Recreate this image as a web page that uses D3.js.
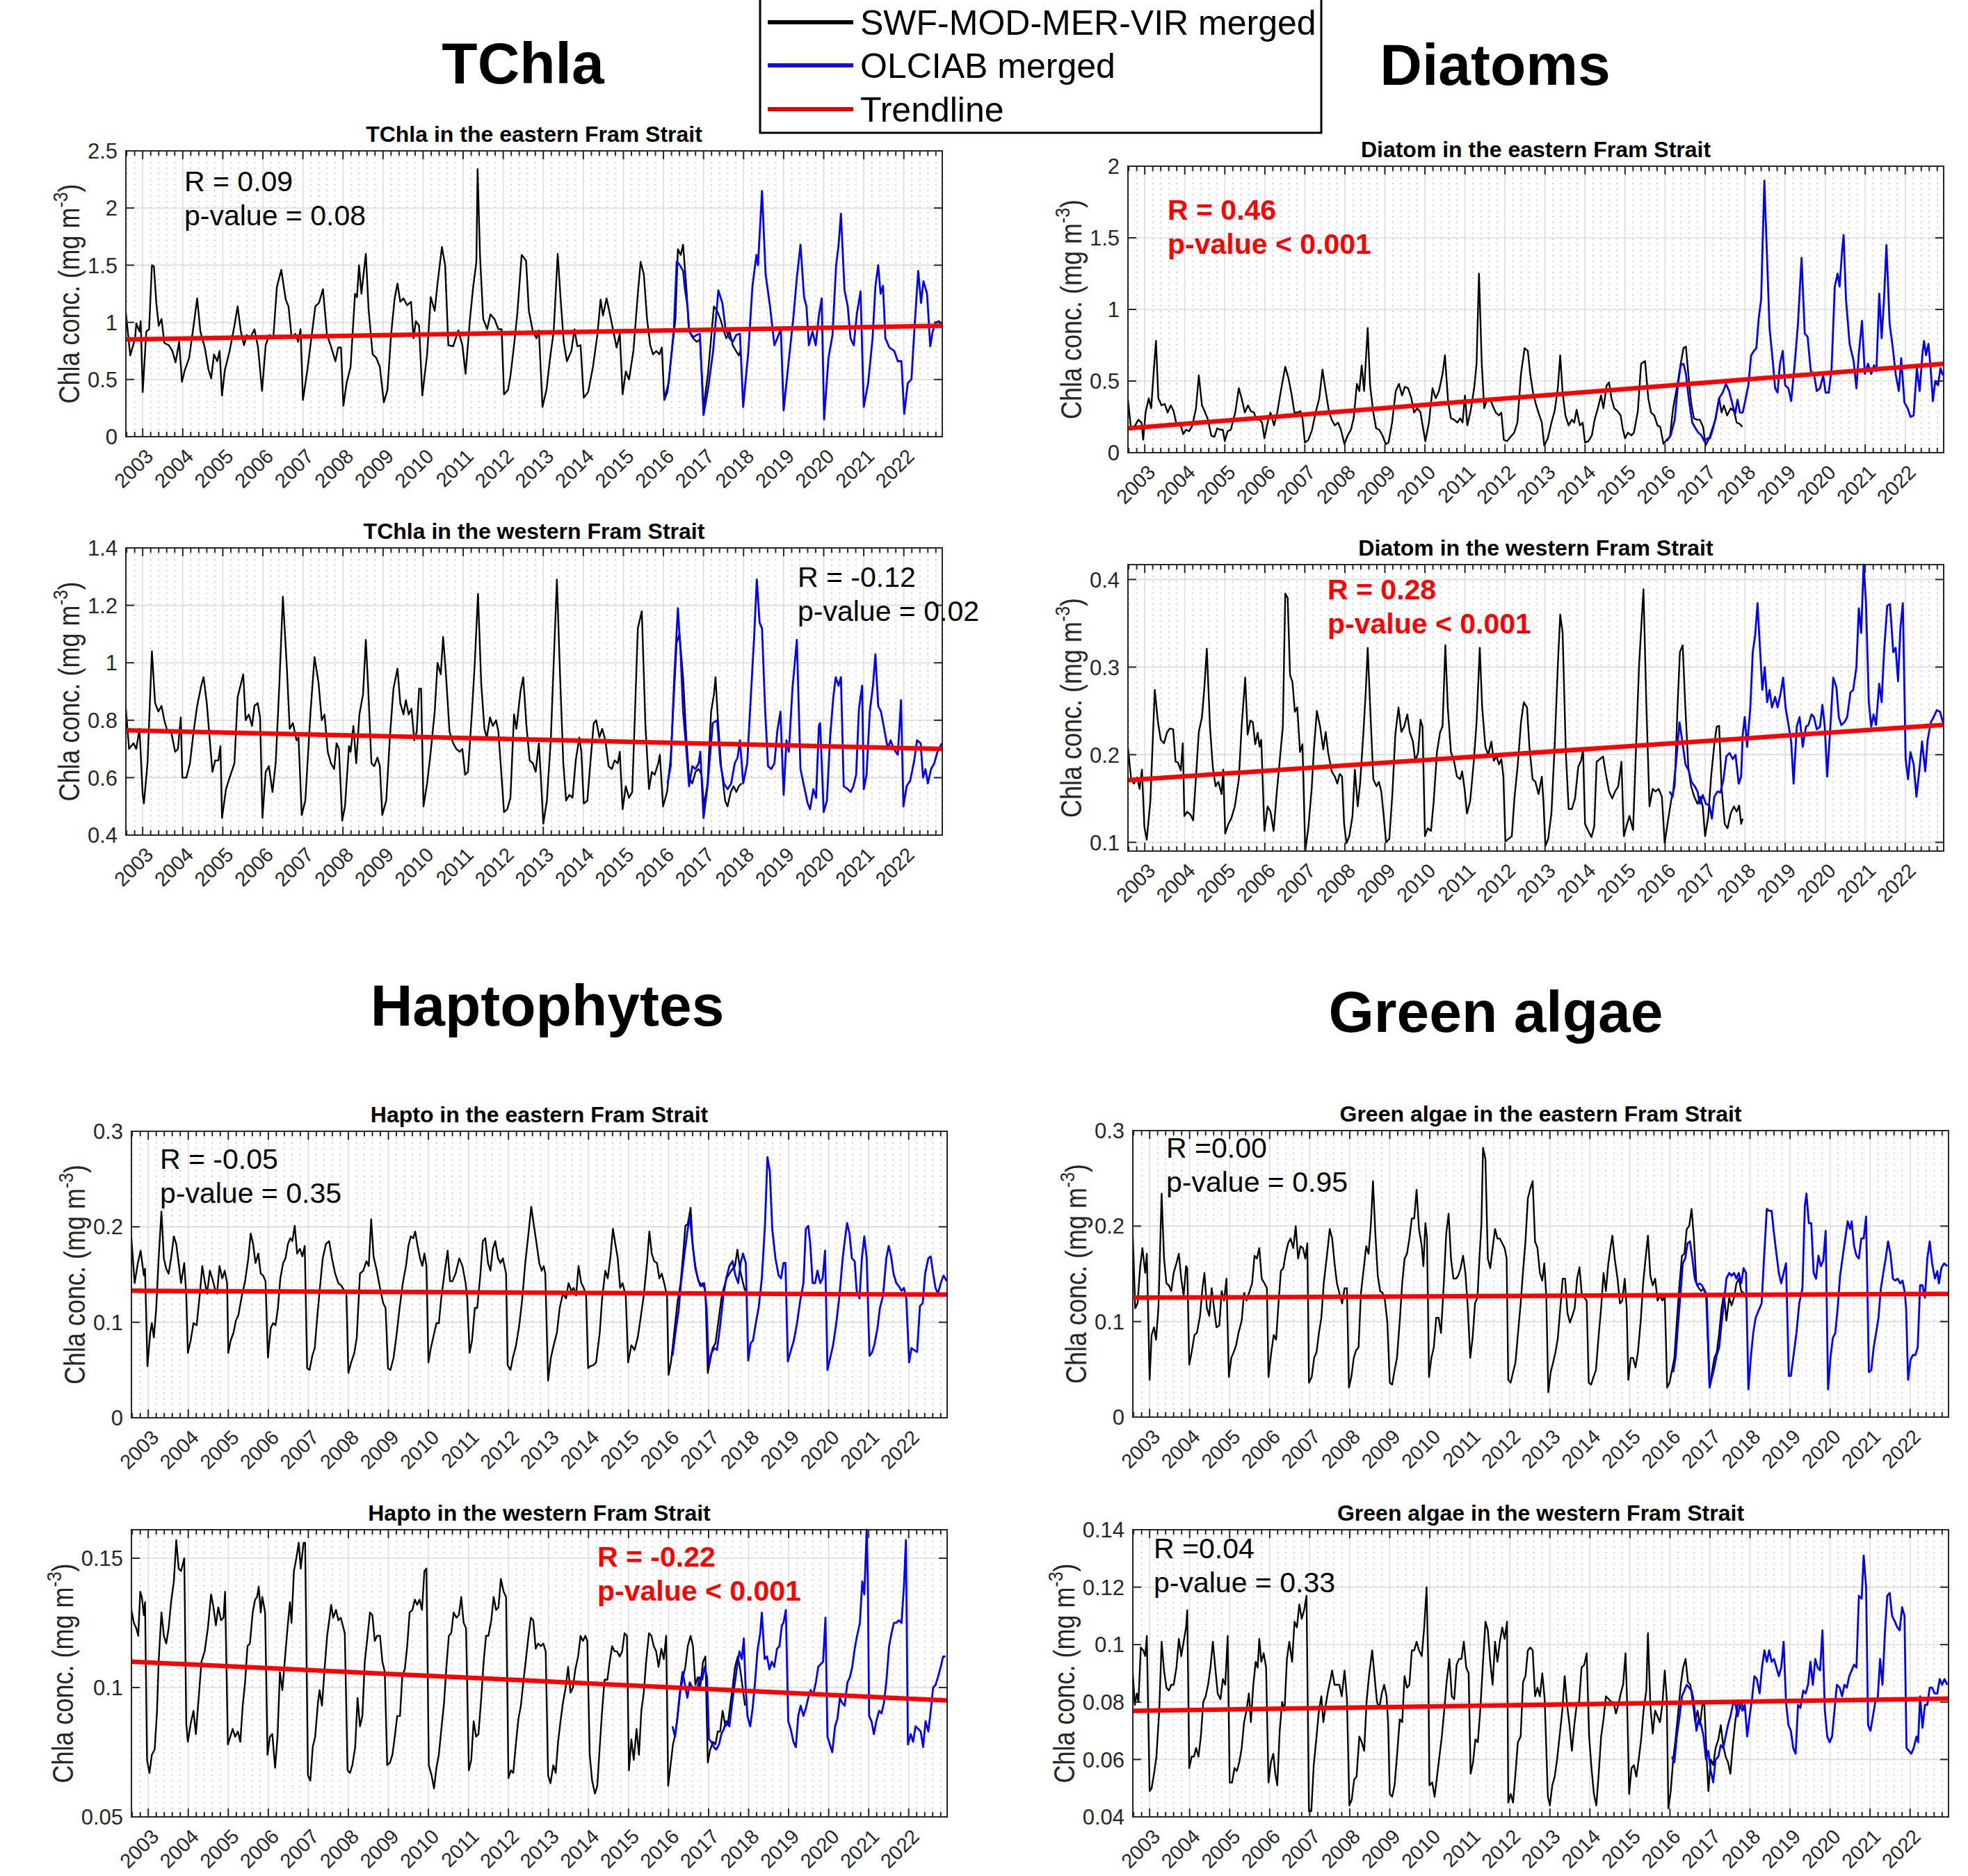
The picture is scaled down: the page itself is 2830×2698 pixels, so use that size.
<!DOCTYPE html>
<html>
<head>
<meta charset="utf-8">
<script src="https://cdn.jsdelivr.net/npm/d3@7"></script>
<style>
  body { margin: 0; background: #fff; }
  svg { display: block; font-family: "Liberation Sans", Arial, Helvetica, sans-serif; }
</style>
</head>
<body>
<svg id="fig" width="2830" height="2698"></svg>
<script>
// ---- shared axis data ----
const xDomain = [2002.58, 2022.96];
const yearTicks = d3.range(2003, 2023);
const minorStep = 0.2;

// ---- TChla, eastern ----
const tchlaEastSWF = [[2002.58,1.08],[2002.69,0.71],[2002.81,0.86],[2002.84,0.99],[2002.92,0.92],[2002.95,1.01],[2003.00,0.39],[2003.09,0.92],[2003.16,0.94],[2003.23,1.50],[2003.28,1.49],[2003.34,1.17],[2003.40,0.97],[2003.47,1.03],[2003.54,0.82],[2003.65,0.80],[2003.74,0.75],[2003.82,0.65],[2003.91,0.83],[2003.98,0.48],
[2004.05,0.58],[2004.16,0.69],[2004.27,0.97],[2004.36,1.21],[2004.44,0.92],[2004.55,0.78],[2004.64,0.59],[2004.71,0.51],[2004.78,0.72],[2004.86,0.66],[2004.92,0.75],[2004.98,0.36],
[2005.05,0.58],[2005.17,0.75],[2005.29,0.97],[2005.37,1.14],[2005.45,0.92],[2005.53,0.80],[2005.60,0.89],[2005.68,0.86],[2005.79,0.94],[2005.88,0.78],[2005.98,0.40],
[2006.07,0.80],[2006.16,0.89],[2006.26,0.86],[2006.35,1.31],[2006.46,1.46],[2006.57,1.20],[2006.64,1.14],[2006.72,0.86],[2006.81,0.90],[2006.88,0.83],[2006.94,0.94],[2007.00,0.32],
[2007.11,0.58],[2007.22,0.89],[2007.31,1.14],[2007.40,1.17],[2007.50,1.29],[2007.60,0.89],[2007.70,0.79],[2007.81,0.66],[2007.88,0.78],[2007.95,0.78],[2008.01,0.27],
[2008.09,0.47],[2008.19,0.61],[2008.30,1.25],[2008.35,1.22],[2008.40,1.50],[2008.46,1.25],[2008.57,1.60],[2008.64,1.11],[2008.74,0.72],[2008.83,0.69],[2008.92,0.61],[2009.02,0.30],
[2009.11,0.41],[2009.20,0.89],[2009.29,1.21],[2009.36,1.34],[2009.43,1.18],[2009.51,1.21],[2009.60,1.15],[2009.70,1.18],[2009.76,0.86],[2009.82,1.01],[2009.90,0.97],[2009.98,0.36],
[2010.10,0.72],[2010.19,1.22],[2010.29,1.10],[2010.36,1.34],[2010.47,1.66],[2010.55,1.50],[2010.63,0.80],[2010.75,0.79],[2010.88,0.93],[2010.98,0.80],
[2011.06,0.55],[2011.17,1.03],[2011.25,1.31],[2011.33,1.53],[2011.36,2.34],[2011.42,1.59],[2011.50,1.03],[2011.60,0.94],[2011.68,1.07],[2011.78,1.03],[2011.88,0.94],[2011.96,0.94],[2012.02,0.37],
[2012.12,0.41],[2012.18,0.53],[2012.27,0.80],[2012.35,1.07],[2012.46,1.59],[2012.57,1.54],[2012.64,1.10],[2012.74,0.92],[2012.83,0.86],[2012.89,0.93],[2012.98,0.26],
[2013.08,0.41],[2013.17,0.69],[2013.26,0.92],[2013.36,1.60],[2013.43,1.22],[2013.51,0.83],[2013.59,0.66],[2013.70,0.75],[2013.78,0.94],[2013.85,0.79],[2013.93,0.80],[2014.01,0.34],
[2014.12,0.39],[2014.24,0.61],[2014.35,0.89],[2014.43,1.20],[2014.49,1.06],[2014.58,1.21],[2014.67,1.06],[2014.75,0.92],[2014.83,0.78],[2014.91,0.90],[2014.98,0.37],
[2015.06,0.57],[2015.14,0.50],[2015.25,0.75],[2015.36,1.25],[2015.43,1.53],[2015.51,1.42],[2015.59,1.03],[2015.67,0.80],[2015.74,0.72],[2015.82,0.75],[2015.90,0.72],[2015.96,0.78],[2016.02,0.32],
[2016.10,0.39],[2016.21,0.75],[2016.30,1.03],[2016.36,1.64],[2016.43,1.59],[2016.49,1.68],[2016.57,1.31],[2016.64,0.92],[2016.74,0.86],[2016.83,0.83],[2016.91,0.85],[2017.00,0.25],
[2017.11,0.55],[2017.26,1.14],[2017.34,1.10],[2017.42,1.03],[2017.51,0.92],[2017.57,0.86],[2017.65,0.92],[2017.73,0.80],[2017.81,0.75],[2017.88,0.71],[2017.93,0.76]];
const tchlaEastOLCI = [[2016.02,0.33],[2016.13,0.47],[2016.26,0.94],[2016.33,1.53],[2016.41,1.50],[2016.49,1.45],[2016.53,1.31],[2016.60,1.14],[2016.64,0.92],[2016.75,0.87],[2016.83,0.89],[2016.91,0.90],[2017.00,0.19],
[2017.11,0.41],[2017.24,0.75],[2017.37,1.28],[2017.47,1.17],[2017.55,0.94],[2017.65,0.86],[2017.73,0.83],[2017.82,0.89],[2017.91,0.90],[2017.99,0.26],
[2018.12,0.75],[2018.22,1.31],[2018.32,1.59],[2018.36,1.50],[2018.46,2.15],[2018.55,1.42],[2018.66,1.14],[2018.77,0.80],[2018.84,0.86],[2018.93,0.94],[2019.00,0.23],
[2019.12,0.64],[2019.24,1.03],[2019.33,1.39],[2019.42,1.68],[2019.51,1.22],[2019.57,1.14],[2019.63,0.80],[2019.72,0.92],[2019.80,0.80],[2019.88,1.06],[2019.95,1.21],[2020.01,0.15],
[2020.12,0.69],[2020.22,0.89],[2020.31,1.50],[2020.37,1.67],[2020.43,1.95],[2020.52,1.28],[2020.60,1.14],[2020.67,0.86],[2020.75,0.80],[2020.83,1.08],[2020.92,1.27],[2021.00,0.26],
[2021.11,0.47],[2021.22,0.86],[2021.29,1.31],[2021.36,1.50],[2021.42,1.25],[2021.48,1.32],[2021.54,0.86],[2021.64,0.78],[2021.76,0.75],[2021.85,0.66],[2021.94,0.66],[2022.01,0.20],
[2022.10,0.47],[2022.19,0.50],[2022.27,0.97],[2022.36,1.45],[2022.43,1.17],[2022.49,1.36],[2022.58,1.25],[2022.66,0.79],[2022.72,0.92],[2022.80,1.00],[2022.88,1.01],[2022.95,0.97]];
const tchlaEastTrend = [0.85, 0.97];
const tchlaEastY = [0, 2.5];
const tchlaEastTicks = [0, 0.5, 1, 1.5, 2, 2.5];
const tchlaEastStats = ['R = 0.09', 'p-value = 0.08', false];

// ---- TChla, western ----
const tchlaWestSWF = [[2002.58,0.84],[2002.66,0.70],[2002.77,0.72],[2002.84,0.70],[2002.92,0.77],[2003.00,0.54],[2003.03,0.51],[2003.12,0.65],[2003.23,1.04],[2003.31,0.86],[2003.39,0.83],[2003.47,0.85],[2003.54,0.80],[2003.62,0.76],[2003.71,0.76],[2003.81,0.69],[2003.88,0.70],[2003.95,0.81],[2003.99,0.60],
[2004.09,0.60],[2004.18,0.65],[2004.27,0.76],[2004.36,0.85],[2004.46,0.92],[2004.52,0.95],[2004.60,0.86],[2004.67,0.74],[2004.74,0.62],[2004.81,0.66],[2004.89,0.66],[2004.94,0.71],[2004.98,0.46],
[2005.08,0.56],[2005.17,0.60],[2005.29,0.65],[2005.37,0.88],[2005.51,0.96],[2005.57,0.80],[2005.65,0.82],[2005.73,0.78],[2005.79,0.85],[2005.87,0.86],[2005.93,0.81],[2005.99,0.46],
[2006.07,0.62],[2006.15,0.64],[2006.24,0.55],[2006.32,0.65],[2006.41,0.92],[2006.50,1.23],[2006.60,0.98],[2006.67,0.77],[2006.75,0.79],[2006.84,0.73],[2006.89,0.74],[2006.97,0.47],
[2007.06,0.52],[2007.19,0.83],[2007.29,1.02],[2007.39,0.93],[2007.47,0.80],[2007.54,0.82],[2007.62,0.69],[2007.70,0.65],[2007.78,0.63],[2007.84,0.72],[2007.90,0.70],[2007.98,0.45],
[2008.05,0.50],[2008.15,0.71],[2008.19,0.69],[2008.26,0.78],[2008.33,0.65],[2008.41,0.82],[2008.50,0.89],[2008.57,1.08],[2008.63,0.91],[2008.71,0.65],[2008.78,0.64],[2008.86,0.67],[2008.92,0.64],[2008.98,0.47],
[2009.08,0.52],[2009.17,0.74],[2009.26,0.91],[2009.36,0.98],[2009.43,0.86],[2009.51,0.82],[2009.57,0.87],[2009.64,0.82],[2009.71,0.84],[2009.78,0.73],[2009.84,0.76],[2009.90,0.91],[2009.95,0.91],[2010.01,0.50],
[2010.10,0.58],[2010.19,0.69],[2010.29,0.83],[2010.36,1.00],[2010.44,0.96],[2010.50,1.09],[2010.57,0.96],[2010.66,0.76],[2010.75,0.72],[2010.83,0.70],[2010.91,0.69],[2010.98,0.70],
[2011.05,0.61],[2011.12,0.62],[2011.22,0.83],[2011.29,1.00],[2011.37,1.24],[2011.45,0.93],[2011.53,0.77],[2011.59,0.74],[2011.67,0.81],[2011.74,0.78],[2011.82,0.80],[2011.88,0.76],[2012.02,0.48],
[2012.10,0.49],[2012.18,0.53],[2012.27,0.82],[2012.33,0.77],[2012.43,0.90],[2012.50,0.95],[2012.58,0.78],[2012.66,0.66],[2012.74,0.65],[2012.81,0.62],[2012.89,0.72],[2012.94,0.60],[2013.00,0.44],
[2013.09,0.52],[2013.19,0.74],[2013.26,1.00],[2013.34,1.29],[2013.42,0.95],[2013.50,0.65],[2013.57,0.52],[2013.65,0.54],[2013.73,0.53],[2013.81,0.66],[2013.90,0.74],[2013.95,0.69],[2014.01,0.51],
[2014.10,0.52],[2014.18,0.66],[2014.26,0.79],[2014.32,0.80],[2014.40,0.74],[2014.47,0.77],[2014.55,0.73],[2014.63,0.64],[2014.71,0.63],[2014.78,0.66],[2014.86,0.65],[2014.91,0.69],[2014.98,0.49],
[2015.06,0.57],[2015.14,0.53],[2015.22,0.55],[2015.29,0.83],[2015.36,1.12],[2015.46,1.18],[2015.55,0.78],[2015.64,0.56],[2015.71,0.62],[2015.78,0.61],[2015.87,0.65],[2015.91,0.68],[2015.99,0.50],
[2016.09,0.55],[2016.18,0.67],[2016.26,0.88],[2016.33,1.07],[2016.40,1.10],[2016.49,0.95],[2016.57,0.74],[2016.64,0.60],[2016.72,0.58],[2016.80,0.62],[2016.88,0.63],[2016.95,0.61],[2017.01,0.50],
[2017.10,0.58],[2017.19,0.83],[2017.26,0.89],[2017.30,0.95],[2017.36,0.80],[2017.44,0.64],[2017.54,0.52],[2017.60,0.50],[2017.68,0.55],[2017.75,0.57],[2017.82,0.55],[2017.88,0.57],[2017.95,0.58]];
const tchlaWestOLCI = [[2016.10,0.58],[2016.18,0.64],[2016.27,0.95],[2016.36,1.19],[2016.43,1.03],[2016.49,0.83],[2016.57,0.70],[2016.64,0.57],[2016.72,0.64],[2016.80,0.63],[2016.88,0.65],[2016.92,0.69],[2017.00,0.46],
[2017.10,0.57],[2017.23,0.79],[2017.34,0.80],[2017.42,0.65],[2017.51,0.58],[2017.60,0.56],[2017.69,0.58],[2017.78,0.65],[2017.85,0.67],[2017.91,0.73],[2017.99,0.58],
[2018.09,0.65],[2018.16,0.83],[2018.26,1.08],[2018.33,1.29],[2018.40,1.14],[2018.46,1.12],[2018.54,0.83],[2018.61,0.64],[2018.69,0.63],[2018.77,0.65],[2018.84,0.76],[2018.92,0.83],[2019.00,0.54],
[2019.07,0.73],[2019.13,0.69],[2019.22,0.91],[2019.33,1.08],[2019.42,0.63],[2019.51,0.57],[2019.60,0.51],[2019.66,0.49],[2019.74,0.56],[2019.81,0.53],[2019.88,0.78],[2019.91,0.79],[2020.00,0.48],
[2020.08,0.52],[2020.16,0.74],[2020.24,0.88],[2020.30,0.95],[2020.37,0.92],[2020.43,0.95],[2020.50,0.57],[2020.60,0.56],[2020.67,0.55],[2020.74,0.57],[2020.81,0.61],[2020.88,0.84],[2020.96,0.92],[2021.00,0.56],
[2021.07,0.61],[2021.15,0.83],[2021.23,0.92],[2021.29,1.03],[2021.36,0.85],[2021.43,0.83],[2021.51,0.77],[2021.60,0.70],[2021.67,0.73],[2021.75,0.70],[2021.85,0.68],[2021.93,0.87],[2021.99,0.50],
[2022.07,0.57],[2022.16,0.59],[2022.26,0.66],[2022.33,0.73],[2022.42,0.72],[2022.48,0.60],[2022.54,0.63],[2022.60,0.58],[2022.68,0.63],[2022.76,0.65],[2022.84,0.69],[2022.95,0.72]];
const tchlaWestTrend = [0.765, 0.70];
const tchlaWestY = [0.4, 1.4];
const tchlaWestTicks = [0.4, 0.6, 0.8, 1, 1.2, 1.4];
const tchlaWestStats = ['R = -0.12', 'p-value = 0.02', false];

// ---- Diatoms, eastern ----
const diatomEastSWF = [[2002.58,0.37],[2002.66,0.16],[2002.76,0.19],[2002.84,0.23],[2002.92,0.21],[2002.96,0.09],[2003.02,0.28],[2003.10,0.38],[2003.16,0.31],[2003.22,0.55],[2003.28,0.78],[2003.34,0.38],[2003.42,0.33],[2003.50,0.34],[2003.57,0.28],[2003.65,0.33],[2003.72,0.29],[2003.80,0.19],[2003.88,0.21],[2003.96,0.13],
[2004.03,0.16],[2004.11,0.15],[2004.19,0.19],[2004.28,0.31],[2004.35,0.54],[2004.43,0.33],[2004.51,0.28],[2004.58,0.23],[2004.66,0.12],[2004.74,0.11],[2004.81,0.17],[2004.89,0.16],[2004.95,0.16],[2005.00,0.08],
[2005.07,0.15],[2005.15,0.16],[2005.26,0.28],[2005.35,0.45],[2005.42,0.38],[2005.50,0.28],[2005.58,0.33],[2005.65,0.29],[2005.73,0.28],[2005.79,0.23],[2005.87,0.23],[2005.93,0.21],[2005.99,0.10],
[2006.07,0.21],[2006.14,0.28],[2006.23,0.19],[2006.31,0.28],[2006.40,0.43],[2006.51,0.60],[2006.59,0.52],[2006.66,0.42],[2006.74,0.28],[2006.82,0.28],[2006.89,0.29],[2006.94,0.24],[2007.00,0.07],
[2007.09,0.09],[2007.18,0.16],[2007.27,0.28],[2007.36,0.38],[2007.44,0.58],[2007.52,0.43],[2007.60,0.29],[2007.67,0.23],[2007.75,0.19],[2007.83,0.21],[2007.90,0.16],[2007.99,0.06],
[2008.07,0.12],[2008.15,0.16],[2008.22,0.24],[2008.30,0.48],[2008.36,0.43],[2008.42,0.61],[2008.48,0.43],[2008.57,0.87],[2008.63,0.47],[2008.71,0.28],[2008.78,0.17],[2008.86,0.16],[2008.94,0.12],[2009.02,0.06],
[2009.09,0.07],[2009.18,0.21],[2009.27,0.43],[2009.35,0.48],[2009.43,0.40],[2009.50,0.46],[2009.58,0.45],[2009.66,0.38],[2009.73,0.28],[2009.81,0.31],[2009.89,0.28],[2009.93,0.21],[2010.01,0.08],
[2010.10,0.21],[2010.19,0.45],[2010.27,0.38],[2010.35,0.43],[2010.44,0.55],[2010.50,0.68],[2010.58,0.35],[2010.65,0.24],[2010.73,0.23],[2010.81,0.21],[2010.88,0.24],[2010.94,0.21],[2011.00,0.40],
[2011.06,0.19],[2011.14,0.29],[2011.23,0.45],[2011.29,0.62],[2011.35,1.25],[2011.42,0.62],[2011.48,0.31],[2011.54,0.36],[2011.62,0.38],[2011.69,0.33],[2011.77,0.28],[2011.85,0.26],[2011.91,0.28],[2011.97,0.09],
[2012.05,0.08],[2012.14,0.11],[2012.23,0.14],[2012.31,0.21],[2012.40,0.55],[2012.49,0.73],[2012.57,0.71],[2012.63,0.55],[2012.70,0.42],[2012.78,0.33],[2012.86,0.26],[2012.92,0.21],[2012.98,0.05],
[2013.07,0.10],[2013.16,0.21],[2013.24,0.29],[2013.32,0.45],[2013.38,0.68],[2013.44,0.42],[2013.51,0.26],[2013.59,0.19],[2013.67,0.23],[2013.73,0.21],[2013.79,0.30],[2013.87,0.19],[2013.94,0.21],[2014.00,0.07],
[2014.08,0.08],[2014.17,0.12],[2014.24,0.23],[2014.32,0.31],[2014.40,0.40],[2014.46,0.31],[2014.54,0.47],[2014.60,0.49],[2014.66,0.38],[2014.73,0.31],[2014.81,0.29],[2014.89,0.26],[2014.94,0.17],[2015.00,0.10],
[2015.07,0.14],[2015.16,0.12],[2015.22,0.14],[2015.32,0.29],[2015.40,0.62],[2015.50,0.64],[2015.58,0.38],[2015.65,0.28],[2015.73,0.26],[2015.81,0.19],[2015.88,0.18],[2015.96,0.06],
[2016.04,0.09],[2016.12,0.11],[2016.20,0.31],[2016.31,0.48],[2016.39,0.62],[2016.46,0.73],[2016.52,0.74],[2016.58,0.55],[2016.65,0.35],[2016.72,0.24],[2016.80,0.23],[2016.87,0.23],[2016.95,0.18],[2017.01,0.05],
[2017.10,0.10],[2017.17,0.16],[2017.26,0.23],[2017.35,0.38],[2017.41,0.28],[2017.47,0.33],[2017.55,0.26],[2017.64,0.31],[2017.72,0.29],[2017.79,0.21],[2017.87,0.20],[2017.93,0.18]];
const diatomEastOLCI = [[2016.04,0.08],[2016.14,0.12],[2016.24,0.23],[2016.32,0.47],[2016.39,0.61],[2016.46,0.62],[2016.52,0.55],[2016.60,0.36],[2016.68,0.21],[2016.76,0.17],[2016.83,0.14],[2016.91,0.12],[2016.98,0.08],
[2017.06,0.10],[2017.12,0.10],[2017.20,0.17],[2017.26,0.24],[2017.35,0.38],[2017.44,0.42],[2017.52,0.48],[2017.60,0.43],[2017.69,0.33],[2017.75,0.27],[2017.81,0.37],[2017.87,0.28],[2017.94,0.28],[2018.00,0.36],
[2018.08,0.47],[2018.15,0.68],[2018.22,0.71],[2018.28,0.73],[2018.34,0.94],[2018.40,1.07],[2018.48,1.90],[2018.54,1.42],[2018.61,0.87],[2018.69,0.64],[2018.75,0.45],[2018.81,0.42],[2018.87,0.62],[2018.94,0.71],[2019.00,0.47],
[2019.08,0.45],[2019.15,0.36],[2019.23,0.59],[2019.32,0.90],[2019.41,1.36],[2019.49,0.83],[2019.56,0.81],[2019.64,0.57],[2019.72,0.55],[2019.79,0.43],[2019.87,0.45],[2019.95,0.54],[2020.01,0.42],
[2020.09,0.42],[2020.16,0.59],[2020.24,1.16],[2020.31,1.25],[2020.36,1.16],[2020.42,1.40],[2020.46,1.52],[2020.52,1.07],[2020.61,0.76],[2020.71,0.64],[2020.78,0.45],[2020.84,0.69],[2020.92,0.92],[2020.99,0.55],
[2021.07,0.62],[2021.15,0.55],[2021.22,0.61],[2021.28,0.57],[2021.35,1.11],[2021.41,0.80],[2021.47,1.07],[2021.53,1.45],[2021.61,0.90],[2021.69,0.73],[2021.76,0.55],[2021.84,0.43],[2021.90,0.66],[2021.98,0.35],
[2022.06,0.31],[2022.13,0.25],[2022.21,0.26],[2022.29,0.59],[2022.36,0.43],[2022.43,0.69],[2022.47,0.78],[2022.52,0.68],[2022.58,0.76],[2022.64,0.57],[2022.69,0.36],[2022.75,0.50],[2022.82,0.47],[2022.88,0.59],[2022.94,0.54]];
const diatomEastTrend = [0.17, 0.62];
const diatomEastY = [0, 2];
const diatomEastTicks = [0, 0.5, 1, 1.5, 2];
const diatomEastStats = ['R = 0.46', 'p-value < 0.001', true];

// ---- Diatoms, western ----
const diatomWestSWF = [[2002.58,0.208],[2002.66,0.172],[2002.73,0.167],[2002.81,0.174],[2002.87,0.161],[2002.93,0.183],[2002.99,0.118],[2003.05,0.103],[2003.14,0.147],[2003.25,0.274],[2003.33,0.237],[2003.40,0.217],[2003.48,0.213],[2003.56,0.226],[2003.63,0.230],[2003.71,0.229],[2003.77,0.192],[2003.83,0.191],[2003.90,0.182],[2003.95,0.213],
[2003.99,0.130],[2004.06,0.135],[2004.15,0.131],[2004.21,0.125],[2004.28,0.175],[2004.35,0.226],[2004.43,0.243],[2004.49,0.277],[2004.55,0.321],[2004.63,0.232],[2004.70,0.186],[2004.77,0.164],[2004.84,0.169],[2004.92,0.155],[2004.96,0.183],
[2005.01,0.110],[2005.09,0.121],[2005.16,0.127],[2005.25,0.141],[2005.35,0.172],[2005.42,0.232],[2005.51,0.288],[2005.57,0.223],[2005.64,0.239],[2005.70,0.237],[2005.76,0.212],[2005.82,0.225],[2005.87,0.209],[2005.91,0.217],
[2005.99,0.113],[2006.07,0.141],[2006.14,0.135],[2006.22,0.113],[2006.30,0.158],[2006.37,0.192],[2006.45,0.232],[2006.51,0.384],[2006.57,0.379],[2006.63,0.291],[2006.69,0.283],[2006.75,0.249],[2006.81,0.254],[2006.88,0.203],[2006.94,0.212],
[2007.01,0.090],[2007.09,0.118],[2007.17,0.161],[2007.23,0.209],[2007.30,0.250],[2007.38,0.232],[2007.46,0.206],[2007.52,0.226],[2007.58,0.203],[2007.67,0.181],[2007.75,0.175],[2007.81,0.167],[2007.87,0.178],[2007.93,0.175],[2007.98,0.121],
[2008.04,0.099],[2008.11,0.107],[2008.19,0.130],[2008.25,0.183],[2008.32,0.141],[2008.38,0.167],[2008.46,0.223],[2008.52,0.271],[2008.57,0.322],[2008.64,0.246],[2008.71,0.172],[2008.79,0.164],[2008.85,0.169],[2008.91,0.158],[2008.97,0.130],
[2009.03,0.100],[2009.11,0.104],[2009.19,0.158],[2009.26,0.223],[2009.34,0.254],[2009.41,0.226],[2009.48,0.232],[2009.56,0.246],[2009.62,0.226],[2009.70,0.215],[2009.76,0.192],[2009.83,0.203],[2009.89,0.240],[2009.94,0.232],
[2010.00,0.107],[2010.07,0.116],[2010.15,0.113],[2010.22,0.147],[2010.30,0.203],[2010.38,0.226],[2010.44,0.232],[2010.51,0.325],[2010.57,0.254],[2010.65,0.203],[2010.73,0.192],[2010.80,0.175],[2010.88,0.172],[2010.93,0.181],[2010.99,0.161],
[2011.05,0.133],[2011.13,0.147],[2011.22,0.192],[2011.29,0.237],[2011.37,0.322],[2011.43,0.254],[2011.51,0.209],[2011.58,0.200],[2011.66,0.215],[2011.72,0.193],[2011.79,0.198],[2011.85,0.189],[2011.91,0.195],[2011.96,0.175],
[2012.01,0.101],[2012.09,0.104],[2012.17,0.107],[2012.24,0.152],[2012.32,0.189],[2012.40,0.237],[2012.47,0.260],[2012.55,0.254],[2012.61,0.209],[2012.69,0.172],[2012.76,0.169],[2012.84,0.155],[2012.92,0.175],[2012.96,0.147],
[2013.01,0.096],[2013.08,0.104],[2013.16,0.133],[2013.24,0.209],[2013.32,0.302],[2013.38,0.360],[2013.44,0.339],[2013.52,0.203],[2013.59,0.138],[2013.67,0.138],[2013.75,0.150],[2013.83,0.186],[2013.90,0.193],[2013.95,0.206],
[2014.00,0.121],[2014.08,0.113],[2014.16,0.106],[2014.23,0.118],[2014.29,0.192],[2014.37,0.195],[2014.45,0.198],[2014.52,0.178],[2014.60,0.158],[2014.68,0.150],[2014.75,0.158],[2014.83,0.164],[2014.91,0.192],
[2014.97,0.107],[2015.05,0.121],[2015.11,0.130],[2015.20,0.114],[2015.27,0.203],[2015.35,0.302],[2015.46,0.389],[2015.53,0.260],[2015.61,0.141],[2015.69,0.161],[2015.76,0.158],[2015.84,0.161],[2015.92,0.152],[2015.99,0.099],
[2016.07,0.124],[2016.16,0.150],[2016.24,0.164],[2016.31,0.254],[2016.37,0.317],[2016.44,0.325],[2016.50,0.260],[2016.58,0.186],[2016.65,0.164],[2016.73,0.152],[2016.81,0.144],[2016.88,0.152],[2016.94,0.141],
[2017.00,0.107],[2017.08,0.130],[2017.15,0.175],[2017.23,0.212],[2017.29,0.232],[2017.35,0.233],[2017.41,0.164],[2017.49,0.121],[2017.56,0.116],[2017.64,0.133],[2017.72,0.141],[2017.79,0.135],[2017.85,0.142],[2017.90,0.121],[2017.94,0.127]];
const diatomWestOLCI = [[2016.11,0.158],[2016.19,0.152],[2016.27,0.189],[2016.36,0.237],[2016.44,0.212],[2016.51,0.189],[2016.59,0.182],[2016.66,0.169],[2016.74,0.164],[2016.81,0.158],[2016.87,0.144],[2016.94,0.154],
[2017.02,0.144],[2017.11,0.142],[2017.17,0.127],[2017.23,0.152],[2017.31,0.158],[2017.38,0.157],[2017.46,0.172],[2017.53,0.198],[2017.61,0.202],[2017.69,0.195],[2017.76,0.200],[2017.84,0.167],[2017.90,0.175],[2017.94,0.223],
[2017.99,0.243],[2018.05,0.209],[2018.13,0.254],[2018.19,0.317],[2018.25,0.336],[2018.31,0.373],[2018.37,0.322],[2018.43,0.274],[2018.49,0.300],[2018.55,0.260],[2018.61,0.274],[2018.67,0.254],[2018.75,0.266],[2018.81,0.254],[2018.89,0.271],[2018.95,0.288],
[2019.01,0.254],[2019.09,0.232],[2019.15,0.215],[2019.21,0.167],[2019.29,0.232],[2019.36,0.243],[2019.44,0.209],[2019.52,0.232],[2019.58,0.234],[2019.66,0.246],[2019.72,0.243],[2019.79,0.229],[2019.87,0.232],[2019.93,0.257],[2019.99,0.232],
[2020.05,0.175],[2020.13,0.232],[2020.20,0.288],[2020.28,0.277],[2020.34,0.243],[2020.40,0.234],[2020.48,0.237],[2020.55,0.243],[2020.63,0.271],[2020.70,0.274],[2020.78,0.300],[2020.84,0.367],[2020.90,0.339],[2020.96,0.417],
[2021.02,0.373],[2021.09,0.260],[2021.15,0.232],[2021.21,0.246],[2021.27,0.234],[2021.35,0.281],[2021.41,0.260],[2021.47,0.317],[2021.55,0.370],[2021.62,0.372],[2021.70,0.317],[2021.76,0.322],[2021.82,0.284],[2021.88,0.345],[2021.94,0.373],
[2022.01,0.195],[2022.07,0.172],[2022.13,0.203],[2022.21,0.189],[2022.28,0.152],[2022.36,0.186],[2022.42,0.215],[2022.50,0.181],[2022.56,0.217],[2022.64,0.237],[2022.71,0.243],[2022.79,0.251],[2022.87,0.249],[2022.94,0.237]];
const diatomWestTrend = [0.171, 0.234];
const diatomWestY = [0.09, 0.417];
const diatomWestTicks = [0.1, 0.2, 0.3, 0.4];
const diatomWestStats = ['R = 0.28', 'p-value < 0.001', true];

// ---- Haptophytes, eastern ----
const haptoEastSWF = [[2002.58,0.188],[2002.66,0.141],[2002.74,0.162],[2002.81,0.175],[2002.89,0.149],[2002.92,0.156],[2002.98,0.054],[2003.05,0.089],[2003.09,0.099],[2003.14,0.084],[2003.20,0.115],[2003.26,0.167],[2003.33,0.216],[2003.39,0.167],[2003.45,0.156],[2003.51,0.151],[2003.57,0.167],[2003.64,0.190],[2003.70,0.182],[2003.76,0.162],[2003.82,0.141],[2003.90,0.162],[2003.95,0.128],
[2003.99,0.068],[2004.06,0.081],[2004.13,0.099],[2004.21,0.097],[2004.29,0.130],[2004.35,0.159],[2004.41,0.143],[2004.47,0.130],[2004.54,0.154],[2004.60,0.146],[2004.66,0.136],[2004.72,0.130],[2004.78,0.159],[2004.85,0.146],[2004.91,0.154],[2004.97,0.141],
[2005.00,0.068],[2005.06,0.081],[2005.13,0.089],[2005.19,0.102],[2005.25,0.107],[2005.34,0.128],[2005.42,0.143],[2005.50,0.167],[2005.56,0.193],[2005.62,0.182],[2005.68,0.162],[2005.75,0.172],[2005.81,0.151],[2005.87,0.149],[2005.93,0.143],
[2005.99,0.063],[2006.06,0.094],[2006.12,0.099],[2006.18,0.097],[2006.24,0.115],[2006.30,0.146],[2006.37,0.162],[2006.43,0.167],[2006.49,0.182],[2006.55,0.188],[2006.60,0.185],[2006.66,0.201],[2006.72,0.172],[2006.79,0.177],[2006.85,0.169],[2006.91,0.180],
[2006.97,0.052],[2007.03,0.050],[2007.10,0.065],[2007.16,0.073],[2007.22,0.104],[2007.30,0.141],[2007.36,0.167],[2007.44,0.182],[2007.52,0.185],[2007.59,0.167],[2007.67,0.151],[2007.75,0.141],[2007.83,0.138],[2007.90,0.133],[2007.95,0.130],
[2008.00,0.047],[2008.07,0.058],[2008.15,0.068],[2008.21,0.084],[2008.29,0.151],[2008.37,0.154],[2008.45,0.164],[2008.51,0.159],[2008.57,0.208],[2008.63,0.169],[2008.71,0.154],[2008.79,0.136],[2008.87,0.120],[2008.93,0.115],
[2008.99,0.052],[2009.05,0.050],[2009.13,0.063],[2009.21,0.089],[2009.28,0.115],[2009.36,0.141],[2009.44,0.159],[2009.50,0.180],[2009.56,0.190],[2009.62,0.188],[2009.67,0.195],[2009.73,0.180],[2009.79,0.167],[2009.85,0.159],[2009.90,0.172],[2009.95,0.159],
[2010.00,0.058],[2010.06,0.073],[2010.12,0.084],[2010.20,0.099],[2010.26,0.099],[2010.32,0.125],[2010.40,0.151],[2010.48,0.175],[2010.54,0.143],[2010.60,0.143],[2010.68,0.151],[2010.77,0.167],[2010.85,0.159],[2010.93,0.141],[2010.97,0.125],
[2011.03,0.068],[2011.09,0.081],[2011.16,0.115],[2011.22,0.115],[2011.30,0.151],[2011.36,0.185],[2011.42,0.188],[2011.49,0.162],[2011.55,0.154],[2011.61,0.177],[2011.67,0.185],[2011.74,0.167],[2011.80,0.162],[2011.86,0.167],[2011.94,0.151],
[2011.98,0.055],[2012.05,0.050],[2012.11,0.063],[2012.19,0.076],[2012.27,0.097],[2012.34,0.123],[2012.42,0.162],[2012.50,0.193],[2012.57,0.221],[2012.63,0.203],[2012.71,0.180],[2012.77,0.162],[2012.83,0.154],[2012.88,0.159],[2012.92,0.151],
[2012.99,0.039],[2013.06,0.063],[2013.13,0.076],[2013.21,0.089],[2013.28,0.115],[2013.36,0.130],[2013.44,0.125],[2013.50,0.141],[2013.57,0.133],[2013.63,0.136],[2013.69,0.128],[2013.75,0.159],[2013.82,0.141],[2013.88,0.136],[2013.94,0.128],
[2013.99,0.052],[2014.04,0.054],[2014.12,0.055],[2014.19,0.058],[2014.28,0.089],[2014.34,0.125],[2014.42,0.154],[2014.48,0.146],[2014.55,0.169],[2014.61,0.198],[2014.67,0.182],[2014.73,0.167],[2014.79,0.136],[2014.85,0.141],[2014.93,0.128],
[2014.99,0.058],[2015.07,0.076],[2015.15,0.071],[2015.23,0.084],[2015.30,0.104],[2015.38,0.128],[2015.46,0.162],[2015.52,0.195],[2015.58,0.172],[2015.64,0.164],[2015.71,0.162],[2015.77,0.146],[2015.83,0.151],[2015.89,0.141],[2015.96,0.128],
[2016.00,0.045],[2016.06,0.058],[2016.14,0.089],[2016.22,0.120],[2016.30,0.141],[2016.36,0.169],[2016.42,0.201],[2016.48,0.203],[2016.55,0.220],[2016.61,0.177],[2016.67,0.159],[2016.73,0.146],[2016.79,0.138],[2016.85,0.141],[2016.92,0.133],
[2016.98,0.047],[2017.04,0.060],[2017.10,0.073],[2017.17,0.078],[2017.24,0.099],[2017.32,0.125],[2017.38,0.136],[2017.45,0.146],[2017.52,0.151],[2017.60,0.156],[2017.66,0.159],[2017.72,0.176],[2017.79,0.154],[2017.85,0.143],[2017.91,0.133]];
const haptoEastOLCI = [[2016.10,0.065],[2016.17,0.089],[2016.25,0.112],[2016.31,0.141],[2016.39,0.169],[2016.47,0.195],[2016.53,0.211],[2016.60,0.182],[2016.67,0.156],[2016.75,0.143],[2016.83,0.138],[2016.89,0.141],[2016.95,0.115],
[2017.00,0.056],[2017.07,0.068],[2017.15,0.073],[2017.21,0.071],[2017.29,0.097],[2017.37,0.128],[2017.44,0.146],[2017.52,0.159],[2017.60,0.164],[2017.67,0.149],[2017.74,0.141],[2017.80,0.162],[2017.86,0.172],[2017.93,0.162],
[2017.99,0.060],[2018.05,0.078],[2018.11,0.081],[2018.18,0.099],[2018.25,0.115],[2018.33,0.146],[2018.41,0.203],[2018.47,0.273],[2018.53,0.258],[2018.59,0.198],[2018.67,0.167],[2018.75,0.149],[2018.81,0.146],[2018.87,0.162],[2018.92,0.162],
[2018.98,0.059],[2019.06,0.071],[2019.13,0.081],[2019.21,0.099],[2019.29,0.123],[2019.37,0.141],[2019.43,0.198],[2019.49,0.201],[2019.54,0.182],[2019.60,0.141],[2019.66,0.141],[2019.72,0.154],[2019.79,0.141],[2019.85,0.146],[2019.91,0.175],
[2019.97,0.050],[2020.04,0.063],[2020.11,0.076],[2020.19,0.099],[2020.27,0.128],[2020.35,0.167],[2020.41,0.188],[2020.46,0.204],[2020.52,0.193],[2020.58,0.167],[2020.65,0.164],[2020.70,0.133],[2020.77,0.125],[2020.83,0.167],[2020.89,0.190],[2020.95,0.167],
[2021.02,0.065],[2021.08,0.068],[2021.14,0.076],[2021.22,0.094],[2021.28,0.115],[2021.36,0.128],[2021.44,0.167],[2021.50,0.180],[2021.56,0.169],[2021.62,0.151],[2021.69,0.141],[2021.75,0.138],[2021.82,0.133],[2021.88,0.136],[2021.94,0.125],
[2022.01,0.058],[2022.07,0.073],[2022.13,0.071],[2022.21,0.069],[2022.28,0.117],[2022.35,0.120],[2022.41,0.151],[2022.49,0.167],[2022.55,0.169],[2022.61,0.151],[2022.67,0.136],[2022.73,0.130],[2022.80,0.141],[2022.87,0.149],[2022.95,0.143]];
const haptoEastTrend = [0.133, 0.129];
const haptoEastY = [0, 0.3];
const haptoEastTicks = [0, 0.1, 0.2, 0.3];
const haptoEastStats = ['R = -0.05', 'p-value = 0.35', false];

// ---- Haptophytes, western ----
const haptoWestSWF = [[2002.58,0.130],[2002.64,0.125],[2002.70,0.123],[2002.75,0.120],[2002.80,0.137],[2002.84,0.135],[2002.89,0.128],[2002.92,0.133],[2002.97,0.072],[2003.03,0.067],[2003.09,0.074],[2003.16,0.076],[2003.22,0.091],[2003.26,0.110],[2003.33,0.129],[2003.39,0.120],[2003.45,0.117],[2003.51,0.123],[2003.57,0.133],[2003.64,0.141],[2003.70,0.157],[2003.76,0.146],[2003.82,0.145],[2003.90,0.150],
[2003.95,0.086],[2003.99,0.079],[2004.06,0.086],[2004.13,0.091],[2004.19,0.082],[2004.26,0.096],[2004.33,0.110],[2004.41,0.114],[2004.49,0.123],[2004.57,0.136],[2004.63,0.131],[2004.69,0.124],[2004.75,0.131],[2004.82,0.126],[2004.88,0.127],[2004.92,0.137],
[2004.99,0.078],[2005.05,0.081],[2005.11,0.084],[2005.17,0.081],[2005.24,0.083],[2005.30,0.079],[2005.36,0.093],[2005.42,0.102],[2005.48,0.116],[2005.54,0.117],[2005.61,0.129],[2005.67,0.134],[2005.72,0.135],[2005.76,0.139],[2005.81,0.129],[2005.85,0.135],[2005.92,0.129],
[2005.98,0.074],[2006.04,0.081],[2006.10,0.082],[2006.17,0.069],[2006.23,0.081],[2006.29,0.106],[2006.35,0.099],[2006.41,0.110],[2006.48,0.123],[2006.54,0.133],[2006.58,0.125],[2006.64,0.145],[2006.70,0.150],[2006.76,0.156],[2006.81,0.146],[2006.88,0.156],[2006.92,0.156],
[2006.99,0.066],[2007.05,0.064],[2007.11,0.077],[2007.17,0.081],[2007.24,0.094],[2007.28,0.099],[2007.34,0.093],[2007.41,0.108],[2007.47,0.120],[2007.53,0.127],[2007.57,0.132],[2007.62,0.127],[2007.69,0.130],[2007.75,0.126],[2007.81,0.127],[2007.86,0.124],[2007.91,0.121],
[2007.98,0.068],[2008.04,0.067],[2008.10,0.070],[2008.17,0.077],[2008.23,0.096],[2008.29,0.085],[2008.35,0.089],[2008.41,0.110],[2008.48,0.120],[2008.54,0.129],[2008.60,0.128],[2008.66,0.118],[2008.72,0.120],[2008.79,0.120],[2008.85,0.110],[2008.91,0.106],
[2008.97,0.070],[2009.04,0.071],[2009.10,0.074],[2009.16,0.081],[2009.22,0.089],[2009.29,0.089],[2009.35,0.105],[2009.41,0.107],[2009.47,0.116],[2009.53,0.129],[2009.60,0.130],[2009.66,0.134],[2009.72,0.132],[2009.78,0.134],[2009.84,0.130],[2009.90,0.145],[2009.95,0.146],
[2010.01,0.070],[2010.08,0.066],[2010.14,0.061],[2010.20,0.069],[2010.26,0.074],[2010.33,0.085],[2010.39,0.094],[2010.45,0.108],[2010.51,0.120],[2010.57,0.121],[2010.63,0.129],[2010.70,0.127],[2010.76,0.128],[2010.82,0.135],[2010.88,0.125],[2010.94,0.123],
[2011.01,0.068],[2011.07,0.072],[2011.13,0.087],[2011.19,0.081],[2011.25,0.082],[2011.32,0.096],[2011.38,0.110],[2011.44,0.120],[2011.50,0.120],[2011.57,0.126],[2011.63,0.135],[2011.69,0.130],[2011.75,0.131],[2011.81,0.142],[2011.88,0.137],[2011.94,0.135],
[2012.00,0.065],[2012.06,0.068],[2012.12,0.067],[2012.19,0.079],[2012.25,0.088],[2012.31,0.093],[2012.37,0.102],[2012.43,0.110],[2012.50,0.120],[2012.56,0.127],[2012.62,0.126],[2012.68,0.115],[2012.74,0.117],[2012.81,0.116],[2012.87,0.117],[2012.93,0.114],
[2012.99,0.066],[2013.05,0.063],[2013.12,0.070],[2013.18,0.067],[2013.24,0.079],[2013.30,0.087],[2013.36,0.094],[2013.43,0.100],[2013.49,0.108],[2013.55,0.098],[2013.61,0.100],[2013.67,0.107],[2013.74,0.112],[2013.80,0.120],[2013.86,0.118],[2013.92,0.120],[2013.97,0.118],
[2014.03,0.074],[2014.09,0.064],[2014.16,0.059],[2014.22,0.062],[2014.28,0.077],[2014.34,0.091],[2014.40,0.103],[2014.47,0.103],[2014.53,0.110],[2014.59,0.116],[2014.65,0.114],[2014.71,0.114],[2014.78,0.112],[2014.84,0.114],[2014.90,0.121],[2014.96,0.120],
[2015.01,0.068],[2015.07,0.080],[2015.13,0.072],[2015.20,0.084],[2015.26,0.074],[2015.32,0.091],[2015.38,0.098],[2015.44,0.110],[2015.51,0.121],[2015.57,0.120],[2015.63,0.116],[2015.69,0.114],[2015.75,0.108],[2015.82,0.115],[2015.88,0.111],[2015.94,0.120],
[2015.99,0.062],[2016.05,0.070],[2016.11,0.078],[2016.17,0.082],[2016.24,0.091],[2016.30,0.099],[2016.36,0.104],[2016.42,0.108],[2016.48,0.116],[2016.55,0.120],[2016.61,0.116],[2016.67,0.101],[2016.73,0.104],[2016.79,0.100],[2016.86,0.110],[2016.92,0.112],
[2016.98,0.071],[2017.04,0.076],[2017.11,0.079],[2017.17,0.078],[2017.23,0.083],[2017.29,0.083],[2017.35,0.091],[2017.42,0.085],[2017.48,0.086],[2017.54,0.093],[2017.60,0.100],[2017.66,0.108],[2017.73,0.112],[2017.79,0.107],[2017.85,0.100],[2017.91,0.093]];
const haptoWestOLCI = [[2016.10,0.085],[2016.16,0.081],[2016.22,0.088],[2016.28,0.098],[2016.35,0.106],[2016.41,0.101],[2016.47,0.096],[2016.53,0.102],[2016.59,0.100],[2016.66,0.099],[2016.72,0.100],[2016.78,0.104],[2016.84,0.103],[2016.90,0.108],[2016.96,0.104],
[2017.01,0.080],[2017.07,0.079],[2017.13,0.077],[2017.19,0.076],[2017.26,0.078],[2017.32,0.082],[2017.38,0.084],[2017.44,0.087],[2017.52,0.085],[2017.58,0.093],[2017.64,0.100],[2017.71,0.108],[2017.77,0.114],[2017.83,0.111],[2017.88,0.119],[2017.92,0.102],
[2017.97,0.089],[2018.04,0.085],[2018.10,0.092],[2018.16,0.102],[2018.22,0.114],[2018.29,0.121],[2018.33,0.129],[2018.40,0.111],[2018.46,0.112],[2018.52,0.107],[2018.58,0.110],[2018.64,0.108],[2018.71,0.115],[2018.77,0.116],[2018.83,0.124],[2018.87,0.125],[2018.93,0.130],
[2018.99,0.087],[2019.05,0.084],[2019.12,0.079],[2019.18,0.077],[2019.24,0.089],[2019.30,0.093],[2019.37,0.089],[2019.43,0.092],[2019.49,0.096],[2019.55,0.099],[2019.61,0.097],[2019.68,0.102],[2019.74,0.108],[2019.80,0.109],[2019.86,0.110],[2019.92,0.127],
[2019.97,0.081],[2020.03,0.078],[2020.09,0.075],[2020.16,0.085],[2020.22,0.088],[2020.28,0.096],[2020.34,0.094],[2020.40,0.093],[2020.47,0.102],[2020.53,0.104],[2020.59,0.108],[2020.65,0.115],[2020.71,0.120],[2020.78,0.125],[2020.84,0.141],[2020.89,0.136],[2020.95,0.161],[2020.98,0.139],
[2021.01,0.089],[2021.07,0.087],[2021.13,0.082],[2021.19,0.087],[2021.26,0.091],[2021.32,0.090],[2021.38,0.094],[2021.44,0.102],[2021.51,0.116],[2021.57,0.121],[2021.63,0.125],[2021.69,0.125],[2021.75,0.126],[2021.82,0.125],[2021.88,0.139],[2021.93,0.157],
[2021.98,0.078],[2022.05,0.082],[2022.11,0.079],[2022.17,0.085],[2022.24,0.084],[2022.30,0.083],[2022.36,0.077],[2022.42,0.087],[2022.49,0.083],[2022.55,0.091],[2022.61,0.100],[2022.67,0.101],[2022.73,0.104],[2022.80,0.108],[2022.86,0.112],[2022.92,0.112]];
const haptoWestTrend = [0.110, 0.095];
const haptoWestY = [0.05, 0.161];
const haptoWestTicks = [0.05, 0.1, 0.15];
const haptoWestStats = ['R = -0.22', 'p-value < 0.001', true];

// ---- Green algae, eastern ----
const greenEastSWF = [[2002.58,0.190],[2002.64,0.114],[2002.70,0.119],[2002.76,0.156],[2002.82,0.177],[2002.89,0.151],[2002.93,0.171],[2003.00,0.039],[2003.05,0.086],[2003.11,0.094],[2003.16,0.081],[2003.22,0.114],[2003.30,0.234],[2003.36,0.166],[2003.42,0.140],[2003.48,0.138],[2003.54,0.132],[2003.60,0.151],[2003.67,0.161],[2003.73,0.171],[2003.79,0.145],[2003.85,0.127],[2003.91,0.158],[2003.94,0.156],
[2003.99,0.055],[2004.05,0.068],[2004.12,0.086],[2004.18,0.088],[2004.26,0.106],[2004.32,0.135],[2004.37,0.151],[2004.43,0.114],[2004.49,0.106],[2004.55,0.135],[2004.61,0.114],[2004.67,0.094],[2004.74,0.096],[2004.80,0.132],[2004.86,0.122],[2004.92,0.145],
[2004.98,0.042],[2005.04,0.062],[2005.10,0.068],[2005.16,0.075],[2005.22,0.088],[2005.30,0.101],[2005.36,0.130],[2005.42,0.122],[2005.50,0.132],[2005.56,0.140],[2005.62,0.169],[2005.68,0.166],[2005.74,0.177],[2005.80,0.145],[2005.87,0.140],[2005.93,0.135],
[2005.97,0.042],[2006.04,0.068],[2006.10,0.086],[2006.16,0.081],[2006.22,0.119],[2006.28,0.153],[2006.34,0.156],[2006.40,0.171],[2006.46,0.182],[2006.52,0.187],[2006.59,0.177],[2006.65,0.200],[2006.71,0.166],[2006.77,0.179],[2006.83,0.177],[2006.89,0.166],[2006.94,0.182],
[2006.98,0.036],[2007.05,0.042],[2007.11,0.062],[2007.17,0.068],[2007.23,0.088],[2007.29,0.104],[2007.35,0.140],[2007.43,0.169],[2007.50,0.197],[2007.56,0.187],[2007.62,0.161],[2007.68,0.140],[2007.74,0.130],[2007.81,0.119],[2007.87,0.135],[2007.93,0.135],
[2007.98,0.031],[2008.04,0.042],[2008.10,0.062],[2008.16,0.070],[2008.22,0.073],[2008.28,0.130],[2008.35,0.156],[2008.41,0.179],[2008.47,0.171],[2008.53,0.203],[2008.58,0.247],[2008.64,0.192],[2008.70,0.148],[2008.76,0.132],[2008.82,0.130],[2008.88,0.122],[2008.94,0.099],
[2009.00,0.036],[2009.06,0.034],[2009.12,0.049],[2009.18,0.062],[2009.25,0.101],[2009.31,0.140],[2009.37,0.166],[2009.43,0.171],[2009.49,0.187],[2009.55,0.208],[2009.61,0.208],[2009.67,0.238],[2009.73,0.197],[2009.80,0.179],[2009.84,0.158],[2009.89,0.203],[2009.93,0.187],
[2009.98,0.042],[2010.04,0.062],[2010.10,0.073],[2010.16,0.104],[2010.22,0.104],[2010.28,0.088],[2010.35,0.140],[2010.41,0.192],[2010.47,0.213],[2010.53,0.166],[2010.59,0.145],[2010.65,0.145],[2010.71,0.148],[2010.77,0.156],[2010.83,0.169],[2010.89,0.151],[2010.95,0.114],
[2011.01,0.062],[2011.07,0.083],[2011.13,0.119],[2011.19,0.125],[2011.24,0.166],[2011.29,0.203],[2011.33,0.282],[2011.39,0.270],[2011.45,0.166],[2011.51,0.156],[2011.57,0.177],[2011.63,0.197],[2011.69,0.187],[2011.75,0.187],[2011.81,0.182],[2011.87,0.177],[2011.92,0.166],
[2011.96,0.039],[2012.02,0.036],[2012.08,0.047],[2012.14,0.057],[2012.20,0.086],[2012.27,0.119],[2012.33,0.153],[2012.39,0.184],[2012.45,0.229],[2012.51,0.239],[2012.57,0.247],[2012.63,0.184],[2012.69,0.177],[2012.75,0.151],[2012.81,0.143],[2012.86,0.161],[2012.91,0.127],
[2012.96,0.026],[2013.02,0.047],[2013.08,0.057],[2013.14,0.068],[2013.20,0.083],[2013.26,0.114],[2013.32,0.145],[2013.38,0.145],[2013.44,0.109],[2013.50,0.099],[2013.56,0.106],[2013.62,0.114],[2013.68,0.145],[2013.74,0.157],[2013.80,0.127],[2013.86,0.125],[2013.92,0.122],
[2013.97,0.036],[2014.03,0.034],[2014.09,0.042],[2014.15,0.049],[2014.21,0.081],[2014.28,0.114],[2014.34,0.151],[2014.40,0.132],[2014.46,0.161],[2014.52,0.179],[2014.56,0.190],[2014.62,0.166],[2014.69,0.145],[2014.75,0.119],[2014.81,0.122],[2014.87,0.145],[2014.92,0.114],
[2014.96,0.039],[2015.02,0.062],[2015.08,0.062],[2015.14,0.052],[2015.20,0.068],[2015.27,0.101],[2015.33,0.140],[2015.39,0.166],[2015.45,0.190],[2015.51,0.148],[2015.57,0.138],[2015.63,0.145],[2015.69,0.122],[2015.75,0.127],[2015.81,0.122],[2015.87,0.127],
[2015.93,0.031],[2015.99,0.036],[2016.05,0.049],[2016.11,0.062],[2016.17,0.099],[2016.24,0.140],[2016.30,0.169],[2016.36,0.171],[2016.42,0.197],[2016.48,0.200],[2016.54,0.218],[2016.60,0.187],[2016.66,0.140],[2016.72,0.135],[2016.78,0.132],[2016.84,0.135],[2016.90,0.130],
[2016.99,0.031],[2017.05,0.047],[2017.11,0.062],[2017.17,0.068],[2017.23,0.088],[2017.29,0.114],[2017.35,0.130],[2017.41,0.101],[2017.48,0.125],[2017.54,0.117],[2017.60,0.125],[2017.66,0.140],[2017.72,0.145],[2017.78,0.132],[2017.84,0.130],[2017.90,0.125]];
const greenEastOLCI = [[2016.08,0.047],[2016.14,0.062],[2016.20,0.096],[2016.26,0.127],[2016.32,0.161],[2016.38,0.166],[2016.44,0.182],[2016.50,0.184],[2016.56,0.166],[2016.62,0.145],[2016.68,0.138],[2016.74,0.140],[2016.80,0.138],[2016.86,0.132],[2016.92,0.127],
[2016.99,0.031],[2017.05,0.042],[2017.11,0.052],[2017.17,0.065],[2017.23,0.073],[2017.29,0.099],[2017.35,0.119],[2017.41,0.145],[2017.48,0.151],[2017.54,0.148],[2017.60,0.151],[2017.66,0.145],[2017.72,0.151],[2017.78,0.140],[2017.84,0.156],[2017.90,0.151],
[2017.96,0.029],[2018.02,0.062],[2018.08,0.088],[2018.14,0.104],[2018.22,0.112],[2018.29,0.119],[2018.35,0.166],[2018.42,0.218],[2018.48,0.216],[2018.54,0.216],[2018.60,0.192],[2018.66,0.171],[2018.72,0.151],[2018.78,0.140],[2018.84,0.151],[2018.90,0.161],
[2018.97,0.043],[2019.02,0.043],[2019.08,0.062],[2019.16,0.088],[2019.23,0.119],[2019.31,0.135],[2019.37,0.221],[2019.41,0.234],[2019.47,0.203],[2019.53,0.203],[2019.59,0.151],[2019.65,0.145],[2019.71,0.169],[2019.77,0.158],[2019.83,0.164],[2019.89,0.195],
[2019.95,0.029],[2020.01,0.062],[2020.07,0.083],[2020.13,0.088],[2020.19,0.114],[2020.25,0.148],[2020.31,0.166],[2020.38,0.187],[2020.44,0.205],[2020.50,0.197],[2020.54,0.205],[2020.60,0.179],[2020.66,0.169],[2020.72,0.166],[2020.78,0.187],[2020.84,0.187],[2020.90,0.210],
[2020.97,0.047],[2021.03,0.049],[2021.09,0.073],[2021.15,0.088],[2021.21,0.104],[2021.27,0.135],[2021.33,0.151],[2021.39,0.166],[2021.45,0.184],[2021.51,0.171],[2021.57,0.145],[2021.63,0.143],[2021.69,0.145],[2021.75,0.140],[2021.81,0.143],[2021.87,0.130],[2021.90,0.114],
[2021.95,0.039],[2022.01,0.060],[2022.07,0.065],[2022.13,0.065],[2022.19,0.073],[2022.25,0.138],[2022.31,0.138],[2022.37,0.125],[2022.43,0.166],[2022.49,0.184],[2022.55,0.161],[2022.62,0.145],[2022.68,0.153],[2022.72,0.140],[2022.78,0.156],[2022.85,0.161],[2022.93,0.158]];
const greenEastTrend = [0.125, 0.129];
const greenEastY = [0, 0.3];
const greenEastTicks = [0, 0.1, 0.2, 0.3];
const greenEastStats = ['R =0.00', 'p-value = 0.95', false];

// ---- Green algae, western ----
const greenWestSWF = [[2002.58,0.090],[2002.63,0.079],[2002.68,0.083],[2002.72,0.080],[2002.78,0.099],[2002.84,0.098],[2002.89,0.096],[2002.93,0.103],[2003.00,0.049],[2003.05,0.050],[2003.11,0.055],[2003.17,0.061],[2003.24,0.077],[2003.30,0.101],[2003.36,0.091],[2003.42,0.085],[2003.48,0.084],[2003.54,0.086],[2003.60,0.086],[2003.67,0.092],[2003.73,0.102],[2003.79,0.096],[2003.85,0.101],[2003.91,0.106],[2003.94,0.112],
[2003.99,0.057],[2004.05,0.061],[2004.11,0.061],[2004.16,0.064],[2004.22,0.061],[2004.28,0.068],[2004.34,0.080],[2004.40,0.082],[2004.46,0.086],[2004.52,0.092],[2004.58,0.101],[2004.64,0.092],[2004.70,0.083],[2004.77,0.081],[2004.83,0.088],[2004.89,0.086],[2004.95,0.103],
[2005.00,0.052],[2005.06,0.052],[2005.12,0.057],[2005.18,0.056],[2005.24,0.059],[2005.30,0.064],[2005.36,0.073],[2005.42,0.077],[2005.48,0.083],[2005.53,0.073],[2005.59,0.086],[2005.65,0.094],[2005.70,0.092],[2005.74,0.102],[2005.79,0.094],[2005.85,0.097],[2005.91,0.092],
[2005.97,0.052],[2006.03,0.059],[2006.09,0.062],[2006.14,0.055],[2006.19,0.051],[2006.25,0.070],[2006.31,0.080],[2006.37,0.077],[2006.43,0.095],[2006.49,0.101],[2006.56,0.094],[2006.62,0.108],[2006.68,0.106],[2006.74,0.114],[2006.80,0.109],[2006.86,0.112],[2006.92,0.117],
[2006.98,0.042],[2007.04,0.042],[2007.10,0.058],[2007.17,0.068],[2007.23,0.077],[2007.29,0.082],[2007.34,0.073],[2007.40,0.079],[2007.46,0.084],[2007.52,0.088],[2007.56,0.091],[2007.62,0.086],[2007.68,0.086],[2007.74,0.086],[2007.80,0.082],[2007.87,0.091],[2007.93,0.081],
[2007.99,0.044],[2008.05,0.046],[2008.11,0.053],[2008.17,0.054],[2008.24,0.068],[2008.30,0.066],[2008.36,0.063],[2008.42,0.080],[2008.48,0.089],[2008.56,0.098],[2008.62,0.089],[2008.68,0.080],[2008.74,0.078],[2008.80,0.083],[2008.86,0.086],[2008.92,0.082],[2008.96,0.072],
[2009.00,0.048],[2009.06,0.047],[2009.12,0.051],[2009.19,0.063],[2009.25,0.074],[2009.31,0.073],[2009.37,0.089],[2009.43,0.085],[2009.49,0.086],[2009.55,0.098],[2009.61,0.098],[2009.67,0.101],[2009.73,0.098],[2009.80,0.096],[2009.86,0.106],[2009.92,0.120],[2009.96,0.094],
[2009.99,0.051],[2010.06,0.052],[2010.12,0.047],[2010.18,0.054],[2010.24,0.061],[2010.30,0.068],[2010.36,0.077],[2010.42,0.087],[2010.49,0.095],[2010.55,0.082],[2010.61,0.081],[2010.67,0.093],[2010.73,0.095],[2010.79,0.095],[2010.85,0.101],[2010.91,0.092],[2010.97,0.090],
[2011.02,0.055],[2011.08,0.059],[2011.14,0.067],[2011.20,0.066],[2011.26,0.077],[2011.33,0.094],[2011.39,0.108],[2011.45,0.105],[2011.51,0.094],[2011.57,0.086],[2011.63,0.101],[2011.69,0.094],[2011.75,0.101],[2011.81,0.106],[2011.87,0.102],[2011.93,0.108],
[2011.96,0.045],[2012.02,0.048],[2012.08,0.045],[2012.14,0.055],[2012.20,0.066],[2012.27,0.068],[2012.33,0.087],[2012.39,0.089],[2012.45,0.098],[2012.51,0.099],[2012.57,0.098],[2012.63,0.082],[2012.69,0.085],[2012.75,0.082],[2012.81,0.090],[2012.87,0.081],
[2012.95,0.047],[2013.00,0.044],[2013.06,0.051],[2013.12,0.054],[2013.18,0.060],[2013.25,0.069],[2013.31,0.077],[2013.37,0.089],[2013.43,0.079],[2013.49,0.072],[2013.55,0.063],[2013.61,0.072],[2013.67,0.079],[2013.73,0.080],[2013.79,0.092],[2013.86,0.093],[2013.92,0.097],
[2013.98,0.068],[2014.04,0.057],[2014.10,0.048],[2014.16,0.044],[2014.22,0.055],[2014.28,0.068],[2014.34,0.074],[2014.40,0.082],[2014.47,0.081],[2014.53,0.080],[2014.59,0.080],[2014.65,0.076],[2014.71,0.079],[2014.77,0.083],[2014.83,0.086],[2014.89,0.097],[2014.93,0.080],
[2014.98,0.048],[2015.04,0.057],[2015.10,0.058],[2015.16,0.054],[2015.22,0.060],[2015.28,0.067],[2015.34,0.077],[2015.41,0.084],[2015.45,0.104],[2015.51,0.079],[2015.57,0.069],[2015.63,0.077],[2015.69,0.075],[2015.75,0.073],[2015.81,0.079],[2015.87,0.091],[2015.92,0.081],
[2015.96,0.043],[2016.02,0.049],[2016.08,0.060],[2016.14,0.067],[2016.21,0.077],[2016.27,0.086],[2016.33,0.092],[2016.39,0.095],[2016.45,0.087],[2016.51,0.086],[2016.57,0.080],[2016.63,0.073],[2016.69,0.077],[2016.75,0.072],[2016.81,0.079],[2016.86,0.079],[2016.92,0.060],
[2016.96,0.049],[2017.02,0.060],[2017.08,0.058],[2017.14,0.064],[2017.21,0.067],[2017.27,0.072],[2017.33,0.065],[2017.39,0.061],[2017.45,0.059],[2017.51,0.055],[2017.57,0.065],[2017.63,0.073],[2017.69,0.079],[2017.75,0.080],[2017.81,0.079],[2017.87,0.077]];
const greenWestOLCI = [[2016.05,0.061],[2016.11,0.059],[2016.17,0.068],[2016.24,0.075],[2016.30,0.082],[2016.36,0.084],[2016.42,0.086],[2016.48,0.085],[2016.54,0.084],[2016.60,0.080],[2016.66,0.070],[2016.72,0.074],[2016.78,0.072],[2016.84,0.068],[2016.90,0.060],[2016.96,0.063],
[2017.02,0.056],[2017.08,0.052],[2017.14,0.060],[2017.21,0.061],[2017.27,0.065],[2017.33,0.064],[2017.39,0.068],[2017.45,0.072],[2017.51,0.075],[2017.57,0.079],[2017.63,0.080],[2017.69,0.075],[2017.75,0.079],[2017.81,0.077],[2017.87,0.079],[2017.93,0.068],
[2017.99,0.075],[2018.05,0.081],[2018.11,0.089],[2018.17,0.088],[2018.24,0.083],[2018.30,0.092],[2018.36,0.098],[2018.42,0.094],[2018.48,0.098],[2018.54,0.094],[2018.60,0.095],[2018.66,0.092],[2018.72,0.089],[2018.78,0.092],[2018.84,0.101],[2018.90,0.080],[2018.96,0.072],
[2019.02,0.070],[2019.08,0.064],[2019.14,0.062],[2019.20,0.079],[2019.26,0.078],[2019.33,0.084],[2019.39,0.083],[2019.45,0.086],[2019.51,0.094],[2019.57,0.086],[2019.63,0.095],[2019.69,0.092],[2019.75,0.091],[2019.81,0.105],[2019.87,0.077],[2019.93,0.068],
[2019.99,0.066],[2020.05,0.068],[2020.11,0.077],[2020.17,0.086],[2020.24,0.085],[2020.30,0.082],[2020.36,0.086],[2020.42,0.085],[2020.48,0.089],[2020.54,0.091],[2020.60,0.093],[2020.66,0.092],[2020.72,0.117],[2020.79,0.116],[2020.84,0.131],[2020.90,0.120],
[2020.95,0.072],[2021.01,0.070],[2021.07,0.075],[2021.13,0.080],[2021.19,0.081],[2021.25,0.095],[2021.31,0.086],[2021.37,0.104],[2021.43,0.117],[2021.49,0.118],[2021.55,0.110],[2021.62,0.108],[2021.68,0.106],[2021.74,0.105],[2021.80,0.113],[2021.86,0.110],
[2021.91,0.064],[2021.97,0.063],[2022.03,0.062],[2022.09,0.064],[2022.16,0.068],[2022.20,0.066],[2022.25,0.082],[2022.31,0.071],[2022.37,0.079],[2022.43,0.079],[2022.49,0.085],[2022.55,0.085],[2022.61,0.083],[2022.68,0.083],[2022.74,0.088],[2022.80,0.086],[2022.86,0.088],[2022.93,0.086]];
const greenWestTrend = [0.0769, 0.0812];
const greenWestY = [0.04, 0.14];
const greenWestTicks = [0.04, 0.06, 0.08, 0.1, 0.12, 0.14];
const greenWestStats = ['R =0.04', 'p-value = 0.33', false];

// ---- group titles and legend ----
const groupTitles = ['TChla', 'Diatoms', 'Haptophytes', 'Green algae'];
const legendLabels = ['SWF-MOD-MER-VIR merged', 'OLCIAB merged', 'Trendline'];
const colors = {swf: '#000000', olci: '#0000ff', trend: '#ff0000', axis: '#262626'};

// layout (pixel boxes: left, right, top, bottom; stats anchor x, first baseline)
const panels = [
  {title: 'TChla in the eastern Fram Strait', swf: tchlaEastSWF, olci: tchlaEastOLCI, trend: tchlaEastTrend, yDomain: tchlaEastY, yTicks: tchlaEastTicks, stats: tchlaEastStats, box: [181, 1355, 217, 628], statAt: [265, 275]},
  {title: 'TChla in the western Fram Strait', swf: tchlaWestSWF, olci: tchlaWestOLCI, trend: tchlaWestTrend, yDomain: tchlaWestY, yTicks: tchlaWestTicks, stats: tchlaWestStats, box: [181, 1355, 788, 1201], statAt: [1147, 844]},
  {title: 'Diatom in the eastern Fram Strait', swf: diatomEastSWF, olci: diatomEastOLCI, trend: diatomEastTrend, yDomain: diatomEastY, yTicks: diatomEastTicks, stats: diatomEastStats, box: [1622, 2795, 239, 651], statAt: [1679, 316]},
  {title: 'Diatom in the western Fram Strait', swf: diatomWestSWF, olci: diatomWestOLCI, trend: diatomWestTrend, yDomain: diatomWestY, yTicks: diatomWestTicks, stats: diatomWestStats, box: [1622, 2795, 812, 1224], statAt: [1909, 862]},
  {title: 'Hapto in the eastern Fram Strait', swf: haptoEastSWF, olci: haptoEastOLCI, trend: haptoEastTrend, yDomain: haptoEastY, yTicks: haptoEastTicks, stats: haptoEastStats, box: [189, 1362, 1627, 2039], statAt: [230, 1681]},
  {title: 'Hapto in the western Fram Strait', swf: haptoWestSWF, olci: haptoWestOLCI, trend: haptoWestTrend, yDomain: haptoWestY, yTicks: haptoWestTicks, stats: haptoWestStats, box: [189, 1362, 2200, 2613], statAt: [859, 2253]},
  {title: 'Green algae in the eastern Fram Strait', swf: greenEastSWF, olci: greenEastOLCI, trend: greenEastTrend, yDomain: greenEastY, yTicks: greenEastTicks, stats: greenEastStats, box: [1629, 2802, 1626, 2038], statAt: [1677, 1665]},
  {title: 'Green algae in the western Fram Strait', swf: greenWestSWF, olci: greenWestOLCI, trend: greenWestTrend, yDomain: greenWestY, yTicks: greenWestTicks, stats: greenWestStats, box: [1629, 2802, 2200, 2613], statAt: [1659, 2241]}
];

const svg = d3.select('#fig');
svg.append('rect').attr('width', 2830).attr('height', 2698).attr('fill', '#fff');

function drawPanel(p, i) {
    const [l, r, t, b] = p.box;
    const x = d3.scaleLinear().domain(xDomain).range([l, r]);
    const y = d3.scaleLinear().domain(p.yDomain).range([b, t]);
    const g = svg.append('g').attr('class', 'panel');

    g.append('clipPath').attr('id', 'clip' + i)
        .append('rect').attr('x', l).attr('y', t - 2).attr('width', r - l).attr('height', b - t + 4);

    // minor vertical grid (dotted)
    const minors = d3.range(2002.6, 2022.96, minorStep).filter(v => Math.abs(v - Math.round(v)) > 0.05);
    g.selectAll('line.minor').data(minors).join('line').attr('class', 'minor')
        .attr('x1', d => x(d)).attr('x2', d => x(d)).attr('y1', t).attr('y2', b)
        .attr('stroke', '#b8b8b8').attr('stroke-width', 1.6).attr('stroke-dasharray', '1.6,6.4');
    // major grid
    g.selectAll('line.vgrid').data(yearTicks).join('line').attr('class', 'vgrid')
        .attr('x1', d => x(d)).attr('x2', d => x(d)).attr('y1', t).attr('y2', b)
        .attr('stroke', '#dcdcdc').attr('stroke-width', 1.6);
    g.selectAll('line.hgrid').data(p.yTicks).join('line').attr('class', 'hgrid')
        .attr('x1', l).attr('x2', r).attr('y1', d => y(d)).attr('y2', d => y(d))
        .attr('stroke', '#dcdcdc').attr('stroke-width', 1.6);

    const line = d3.line().x(d => x(d[0])).y(d => y(d[1]));
    const plot = g.append('g').attr('clip-path', `url(#clip${i})`);
    plot.append('path').datum(p.swf).attr('d', line)
        .attr('fill', 'none').attr('stroke', colors.swf).attr('stroke-width', 2.4).attr('stroke-linejoin', 'round');
    plot.append('path').datum(p.olci).attr('d', line)
        .attr('fill', 'none').attr('stroke', colors.olci).attr('stroke-width', 2.8).attr('stroke-linejoin', 'round');
    plot.append('path').datum([[xDomain[0], p.trend[0]], [xDomain[1], p.trend[1]]]).attr('d', line)
        .attr('fill', 'none').attr('stroke', colors.trend).attr('stroke-width', 6.5);

    // box + ticks
    g.append('rect').attr('x', l).attr('y', t).attr('width', r - l).attr('height', b - t)
        .attr('fill', 'none').attr('stroke', colors.axis).attr('stroke-width', 2);
    const tk = g.append('g').attr('stroke', colors.axis).attr('stroke-width', 2);
    minors.forEach(v => {
        tk.append('line').attr('x1', x(v)).attr('x2', x(v)).attr('y1', b).attr('y2', b - 7);
        tk.append('line').attr('x1', x(v)).attr('x2', x(v)).attr('y1', t).attr('y2', t + 7);
    });
    yearTicks.forEach(v => {
        tk.append('line').attr('x1', x(v)).attr('x2', x(v)).attr('y1', b).attr('y2', b - 12);
        tk.append('line').attr('x1', x(v)).attr('x2', x(v)).attr('y1', t).attr('y2', t + 12);
    });
    p.yTicks.forEach(v => {
        tk.append('line').attr('x1', l).attr('x2', l + 12).attr('y1', y(v)).attr('y2', y(v));
        tk.append('line').attr('x1', r).attr('x2', r - 12).attr('y1', y(v)).attr('y2', y(v));
    });

    // tick labels
    const ytl = g.selectAll('text.ytl').data(p.yTicks).join('text').attr('class', 'ytl')
        .attr('x', l - 12).attr('y', d => y(d)).attr('dy', '0.36em')
        .attr('text-anchor', 'end').attr('font-size', 31).attr('fill', colors.axis)
        .text(d => String(d));
    g.selectAll('text.xtl').data(yearTicks).join('text').attr('class', 'xtl')
        .attr('transform', d => `translate(${x(d) + 17},${b + 30}) rotate(-45)`)
        .attr('text-anchor', 'end').attr('font-size', 29).attr('fill', colors.axis)
        .text(d => d);

    // y label, placed clear of the widest tick label
    let tickW = 0;
    ytl.each(function () { tickW = Math.max(tickW, this.getComputedTextLength()); });
    const yl = g.append('text')
        .attr('transform', `translate(${l - 12 - tickW - 12},${(t + b) / 2}) rotate(-90) scale(1,1.2)`)
        .attr('text-anchor', 'middle').attr('font-size', 36).attr('fill', colors.axis);
    yl.append('tspan').text('Chla conc. (mg m');
    yl.append('tspan').attr('font-size', 25).attr('dy', -14).text('-3');
    yl.append('tspan').attr('dy', 14).text(')');

    // title
    g.append('text').attr('x', (l + r) / 2).attr('y', t - 13)
        .attr('text-anchor', 'middle').attr('font-size', 32).attr('font-weight', 'bold')
        .attr('fill', '#000').text(p.title);

    // stats
    const [sx, sy] = p.statAt;
    const sig = p.stats[2];
    g.selectAll('text.stat').data(p.stats.slice(0, 2)).join('text').attr('class', 'stat')
        .attr('x', sx).attr('y', (d, k) => sy + k * 49)
        .attr('font-size', 41).attr('font-weight', sig ? 'bold' : 'normal')
        .attr('fill', sig ? colors.trend : '#000')
        .text(d => d);
}

panels.forEach(drawPanel);

// group titles
const titlePos = [[752, 120], [2150, 122], [787, 1475], [2151, 1484]];
svg.selectAll('text.group').data(groupTitles).join('text').attr('class', 'group')
    .attr('x', (d, i) => titlePos[i][0]).attr('y', (d, i) => titlePos[i][1])
    .attr('text-anchor', 'middle').attr('font-size', 84).attr('font-weight', 'bold')
    .attr('fill', '#000').text(d => d);

// legend
const lg = svg.append('g');
lg.append('rect').attr('x', 1093).attr('y', -4).attr('width', 807).attr('height', 195)
    .attr('fill', '#fff').attr('stroke', '#000').attr('stroke-width', 3);
const legendY = [32, 94, 157];
const legendColors = [colors.swf, '#1010e0', '#e00000'];
legendLabels.forEach((lab, k) => {
    lg.append('line').attr('x1', 1104).attr('x2', 1227).attr('y1', legendY[k]).attr('y2', legendY[k])
        .attr('stroke', legendColors[k]).attr('stroke-width', 6);
    lg.append('text').attr('x', 1237).attr('y', legendY[k] + 18)
        .attr('font-size', 50).attr('fill', '#000').text(lab);
});
</script>
</body>
</html>
